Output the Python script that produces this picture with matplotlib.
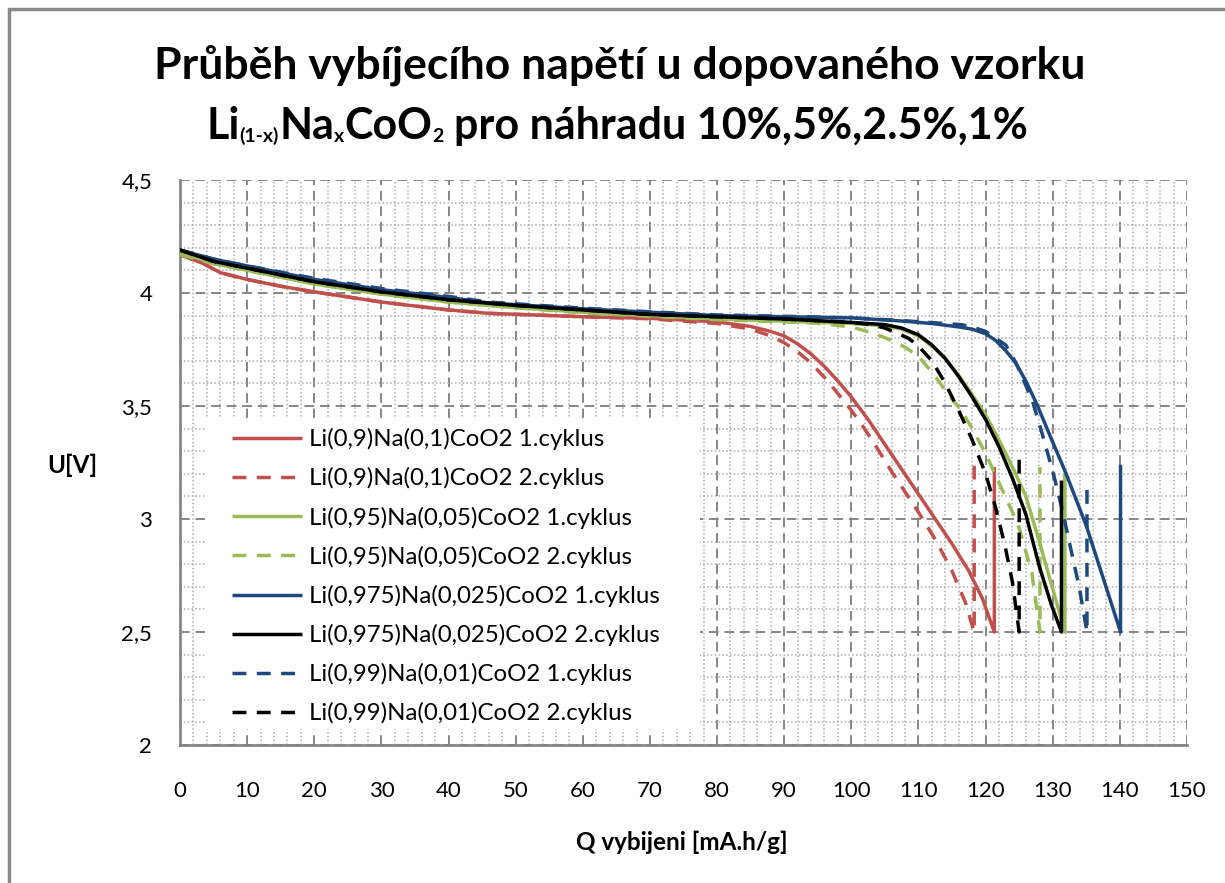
import matplotlib
matplotlib.use("Agg")
import matplotlib.pyplot as plt
from matplotlib.ticker import MultipleLocator, FuncFormatter
from matplotlib.patches import Rectangle

# ---------------- data ----------------
q_na10_c1 = [0, 3.5, 6, 10, 15, 20, 30, 40, 46, 60, 70, 80, 85, 88, 90, 92, 94, 96, 98, 100, 102.5, 105,
             107.5, 110, 112.5, 115, 117.5, 119.5, 121.3, 121.3]
u_na10_c1 = [4.17, 4.13, 4.09, 4.06, 4.03, 4.005, 3.96, 3.925, 3.91, 3.895, 3.888, 3.872, 3.852, 3.83, 3.81,
             3.775, 3.73, 3.675, 3.61, 3.54, 3.44, 3.33, 3.22, 3.11, 3.0, 2.89, 2.77, 2.65, 2.5, 3.23]

q_na10_c2 = [0, 3.5, 6, 10, 15, 20, 30, 40, 46, 60, 70, 80, 85, 88, 90, 92, 94, 96.5, 99.5, 101.5, 103.5,
             106, 110, 112.5, 115, 117, 118.3, 118.3]
u_na10_c2 = [4.17, 4.13, 4.09, 4.06, 4.03, 4.005, 3.96, 3.925, 3.91, 3.895, 3.886, 3.865, 3.84, 3.81, 3.78,
             3.74, 3.69, 3.61, 3.50, 3.42, 3.33, 3.21, 3.03, 2.91, 2.77, 2.63, 2.5, 3.24]

q_na5_c1 = [0, 5, 10, 20, 30, 40, 50, 60, 70, 80, 90, 100, 105, 107.5, 110, 112, 114, 116, 118, 120, 122,
            124, 126, 128, 130, 131.8, 131.8]
u_na5_c1 = [4.18, 4.13, 4.10, 4.04, 3.995, 3.96, 3.935, 3.915, 3.90, 3.885, 3.875, 3.865, 3.855, 3.84, 3.81,
            3.765, 3.71, 3.635, 3.55, 3.46, 3.35, 3.23, 3.10, 2.90, 2.69, 2.5, 3.20]

q_na5_c2 = [0, 5, 10, 20, 30, 40, 50, 60, 70, 80, 90, 95, 100, 103.5, 106, 108, 110, 112, 114, 116.6, 118,
            120, 122, 124, 125, 126.9, 128.1, 128.1]
u_na5_c2 = [4.17, 4.13, 4.10, 4.04, 3.995, 3.96, 3.935, 3.912, 3.897, 3.882, 3.872, 3.866, 3.85, 3.82, 3.79,
            3.76, 3.72, 3.65, 3.57, 3.47, 3.40, 3.29, 3.16, 3.03, 2.96, 2.76, 2.5, 3.23]

q_na25_c1 = [0, 5, 10, 20, 30, 40, 46, 60, 70, 80, 90, 100, 107.5, 112, 116, 118, 120, 121.5, 123, 124.5,
             126, 127.6, 130, 132, 135, 137.5, 140.1, 140.1]
u_na25_c1 = [4.19, 4.15, 4.12, 4.06, 4.015, 3.98, 3.956, 3.93, 3.915, 3.90, 3.895, 3.89, 3.876, 3.865, 3.85,
             3.84, 3.82, 3.79, 3.745, 3.69, 3.61, 3.51, 3.34, 3.20, 2.97, 2.74, 2.5, 3.24]

q_na25_c2 = [0, 2, 5, 10, 15, 20, 30, 40, 50, 60, 70, 80, 90, 100, 105, 107.5, 110, 112, 114, 116, 118, 120,
             122, 124, 126, 128, 129.8, 131.3, 131.3]
u_na25_c2 = [4.19, 4.17, 4.14, 4.11, 4.08, 4.05, 4.005, 3.97, 3.945, 3.925, 3.905, 3.895, 3.885, 3.87, 3.86,
             3.845, 3.815, 3.77, 3.71, 3.63, 3.54, 3.44, 3.32, 3.18, 3.02, 2.79, 2.62, 2.5, 3.17]

q_na1_c1 = [0, 5, 10, 20, 30, 40, 46, 60, 70, 80, 90, 100, 107.5, 116.4, 118, 120, 121.5, 123, 124, 125, 126,
            127.1, 128.5, 130.1, 131.5, 132.6, 134, 135.1, 135.1]
u_na1_c1 = [4.19, 4.15, 4.12, 4.065, 4.02, 3.985, 3.96, 3.933, 3.917, 3.903, 3.897, 3.89, 3.878, 3.86, 3.85,
            3.83, 3.80, 3.77, 3.72, 3.66, 3.59, 3.51, 3.37, 3.20, 3.03, 2.88, 2.69, 2.5, 3.13]

q_na1_c2 = [0, 2, 5, 10, 15, 20, 30, 40, 50, 60, 70, 80, 90, 100, 103, 105, 107, 108.5, 110, 112, 114, 116,
            118, 120, 121.5, 122.9, 124, 125, 125]
u_na1_c2 = [4.19, 4.17, 4.14, 4.11, 4.08, 4.05, 4.005, 3.97, 3.945, 3.925, 3.905, 3.895, 3.885, 3.87, 3.86,
            3.845, 3.82, 3.80, 3.765, 3.70, 3.60, 3.48, 3.35, 3.20, 3.05, 2.88, 2.72, 2.5, 3.30]

labels = [
    "Li(0,9)Na(0,1)CoO2 1.cyklus",
    "Li(0,9)Na(0,1)CoO2 2.cyklus",
    "Li(0,95)Na(0,05)CoO2 1.cyklus",
    "Li(0,95)Na(0,05)CoO2 2.cyklus",
    "Li(0,975)Na(0,025)CoO2 1.cyklus",
    "Li(0,975)Na(0,025)CoO2 2.cyklus",
    "Li(0,99)Na(0,01)CoO2 1.cyklus",
    "Li(0,99)Na(0,01)CoO2 2.cyklus",
]
series = [
    (q_na10_c1, u_na10_c1), (q_na10_c2, u_na10_c2),
    (q_na5_c1, u_na5_c1), (q_na5_c2, u_na5_c2),
    (q_na25_c1, u_na25_c1), (q_na25_c2, u_na25_c2),
    (q_na1_c1, u_na1_c1), (q_na1_c2, u_na1_c2),
]

title_line1 = 'Průběh vybíjecího napětí u dopovaného vzorku'
title_line2 = [('Li', False), ('(1-x)', True), ('Na', False), ('x', True), ('CoO', False), ('2', True),
               (' pro náhradu 10%,5%,2.5%,1%', False)]

# ---------------- styling ----------------
plt.rcParams['font.family'] = ['Lato', 'DejaVu Sans']

RED = '#C0504D'
GREEN = '#9BBB59'
BLUE = '#1F497D'
BLACK = '#000000'
colors = [RED, RED, GREEN, GREEN, BLUE, BLACK, BLUE, BLACK]
dashed = (0, (4.0, 3.0))
styles = ['-', dashed, '-', dashed, '-', '-', dashed, dashed]

W, H = 1225, 883
fig = plt.figure(figsize=(W / 100, H / 100), dpi=100)
fig.patches.append(Rectangle((9 / W, -0.1), 1.2, (H - 9) / H + 0.1, transform=fig.transFigure,
                             fill=False, edgecolor='#888888', linewidth=2.5, zorder=0))

ax = fig.add_axes([180 / W, 138 / H, 1007 / W, 565 / H])

draw_order = [0, 1, 2, 3, 6, 4, 7, 5]
handles = {}
for i in draw_order:
    q, u = series[i]
    ln, = ax.plot(q, u, color=colors[i], linestyle=styles[i], linewidth=2.5,
                  dash_capstyle='butt', solid_joinstyle='round', solid_capstyle='butt',
                  label=labels[i], zorder=3)
    handles[i] = ln

ax.set_xlim(0, 150)
ax.set_ylim(2, 4.5)
ax.xaxis.set_major_locator(MultipleLocator(10))
ax.xaxis.set_minor_locator(MultipleLocator(2))
ax.yaxis.set_major_locator(MultipleLocator(0.5))
ax.yaxis.set_minor_locator(MultipleLocator(0.1))
ax.yaxis.set_major_formatter(FuncFormatter(lambda v, p: ('%g' % v).replace('.', ',')))

ax.grid(which='major', color='#868686', linestyle=(0, (5, 3)), linewidth=1.4, zorder=1)
ax.grid(which='minor', color='#ADADAD', linestyle=(0, (1, 1.5)), linewidth=1.1, zorder=0.5)
ax.set_axisbelow(True)

for s in ['top', 'right']:
    ax.spines[s].set_visible(False)
for s in ['left', 'bottom']:
    ax.spines[s].set_color('#868686')
    ax.spines[s].set_linewidth(2.0)

ax.tick_params(which='both', length=0)
ax.tick_params(axis='x', labelsize=16, pad=26)
ax.tick_params(axis='y', labelsize=16, pad=20)

# white legend background (Excel plot-area legend)
ax.add_patch(Rectangle(((205 - 180) / 1007, (745 - 729) / 565), (700 - 205) / 1007, (729 - 418) / 565,
                       transform=ax.transAxes, facecolor='white', edgecolor='none', zorder=4))

leg = ax.legend([handles[i] for i in range(8)], labels, loc='upper left',
                bbox_to_anchor=((225 - 180) / 1007, (745 - 421) / 565), fontsize=17.3, frameon=False,
                handlelength=2.9, handletextpad=0.3, labelspacing=0.71, borderpad=0.3,
                borderaxespad=0)
leg.set_zorder(5)

fig.text(72 / W, 1 - 465 / H, 'U[V]', fontsize=17.5, fontweight='bold', ha='center', va='center')
fig.text(682 / W, 1 - 842 / H, 'Q vybijeni [mA.h/g]', fontsize=17.5, fontweight='bold',
         ha='center', va='center')

TS = 32
TS2 = 31
SUB = 14
fig.text(620 / W, 1 - 79 / H, title_line1, fontsize=TS, fontweight='bold', ha='center', va='baseline')

# second title line with small subscripts, assembled piece by piece
renderer = fig.canvas.get_renderer()
def _w(s, size):
    t = fig.text(0, 0, s, fontsize=size, fontweight='bold')
    w = t.get_window_extent(renderer).width
    t.remove()
    return w
space_w = _w('a a', TS2) - _w('aa', TS2)
widths = []
for s, sub in title_line2:
    size = SUB if sub else TS2
    if s.startswith(' '):
        widths.append(space_w + _w(s.strip(), size))
    else:
        widths.append(_w(s, size))
total = sum(widths)
x = 617 - total / 2
base = 139
for (s, sub), wd in zip(title_line2, widths):
    size = SUB if sub else TS2
    yb = base + 3 if sub else base
    xs = x + (space_w if s.startswith(' ') else 0)
    fig.text(xs / W, 1 - yb / H, s.strip(), fontsize=size, fontweight='bold', ha='left', va='baseline')
    x += wd

fig.savefig('out.png', dpi=100, facecolor='white')
